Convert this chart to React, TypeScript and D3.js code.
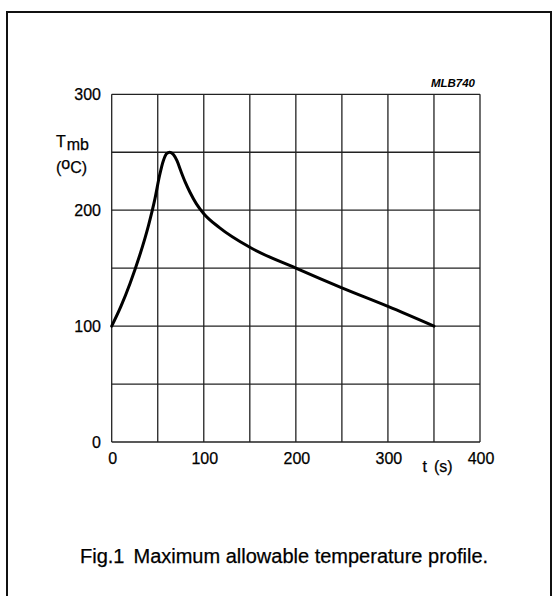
import React from "react";
import * as d3 from "d3";

const timeS = [0, 10, 20, 30, 40, 47, 52, 56, 60, 63, 67, 71, 75, 80, 85, 92, 100, 117, 150, 200, 250, 300, 350];
const tempC = [100, 117, 137, 160, 187, 210, 230, 242.5, 249, 250, 248, 242.5, 234, 224, 215.5, 205.5, 197, 185, 168, 150, 133, 117, 100];
const xTicks = [0, 100, 200, 300, 400];
const yTicks = [0, 100, 200, 300];
const xGrid = [0, 50, 100, 150, 200, 250, 300, 350, 400];
const yGrid = [0, 50, 100, 150, 200, 250, 300];

const W = 557;
const H = 596;
const FONT = "'Liberation Sans', Arial, Helvetica, sans-serif";

export default function App() {
  const x = d3.scaleLinear().domain([0, 400]).range([111.7, 480]);
  const y = d3.scaleLinear().domain([0, 300]).range([442, 94.3]);
  const pts = timeS.map((t, i) => [t, tempC[i]] as [number, number]);
  const line = d3
    .line<[number, number]>()
    .x((d) => x(d[0]))
    .y((d) => y(d[1]))
    .curve(d3.curveMonotoneX);

  return (
    <svg
      width={W}
      height={H}
      style={{ position: "absolute", left: 0, top: 0, background: "#fff" }}
      fontFamily={FONT}
    >
      <rect x={0} y={0} width={W} height={H} fill="#fff" />
      {/* outer frame */}
      <path d={`M7,600 L7,12 L551,12 L551,600`} fill="none" stroke="#111" strokeWidth={2} />

      {/* grid */}
      {xGrid.map((v) => (
        <line key={"gx" + v} x1={x(v)} x2={x(v)} y1={y(0)} y2={y(300)} stroke="#222" strokeWidth={1.3} />
      ))}
      {yGrid.map((v) => (
        <line key={"gy" + v} x1={x(0)} x2={x(400)} y1={y(v)} y2={y(v)} stroke="#222" strokeWidth={1.3} />
      ))}

      {/* curve */}
      <path d={line(pts) || ""} fill="none" stroke="#000" strokeWidth={3} strokeLinejoin="round" strokeLinecap="round" />

      {/* y tick labels */}
      {yTicks.map((v) => (
        <text key={"yt" + v} x={101} y={y(v) + 5.8} textAnchor="end" fontSize={16} fill="#000" stroke="#000" strokeWidth={0.25}>
          {v}
        </text>
      ))}
      {/* x tick labels */}
      {xTicks.map((v) => (
        <text key={"xt" + v} x={x(v) + 1} y={463.5} textAnchor="middle" fontSize={16} fill="#000" stroke="#000" strokeWidth={0.25}>
          {v}
        </text>
      ))}

      {/* axis titles */}
      <text x={56} y={146.7} fontSize={16} fill="#000" stroke="#000" strokeWidth={0.25}>
        T
        <tspan dx={1} dy={3.5}>mb</tspan>
      </text>
      <text x={56} y={173} fontSize={16} fill="#000" stroke="#000" strokeWidth={0.25}>
        (<tspan dy={-4.5}>o</tspan>
        <tspan dy={4.5}>C)</tspan>
      </text>
      <text x={422.5} y={471.5} fontSize={16} fill="#000" stroke="#000" strokeWidth={0.25}>
        t<tspan dx={7}>(s)</tspan>
      </text>

      <text x={475} y={86.7} textAnchor="end" fontSize={11.5} fontWeight="bold" fontStyle="italic" fill="#000">
        MLB740
      </text>

      <text x={80} y={563} fontSize={20} fill="#000" stroke="#000" strokeWidth={0.25}>
        Fig.1<tspan dx={9}>Maximum allowable temperature profile.</tspan>
      </text>
    </svg>
  );
}
